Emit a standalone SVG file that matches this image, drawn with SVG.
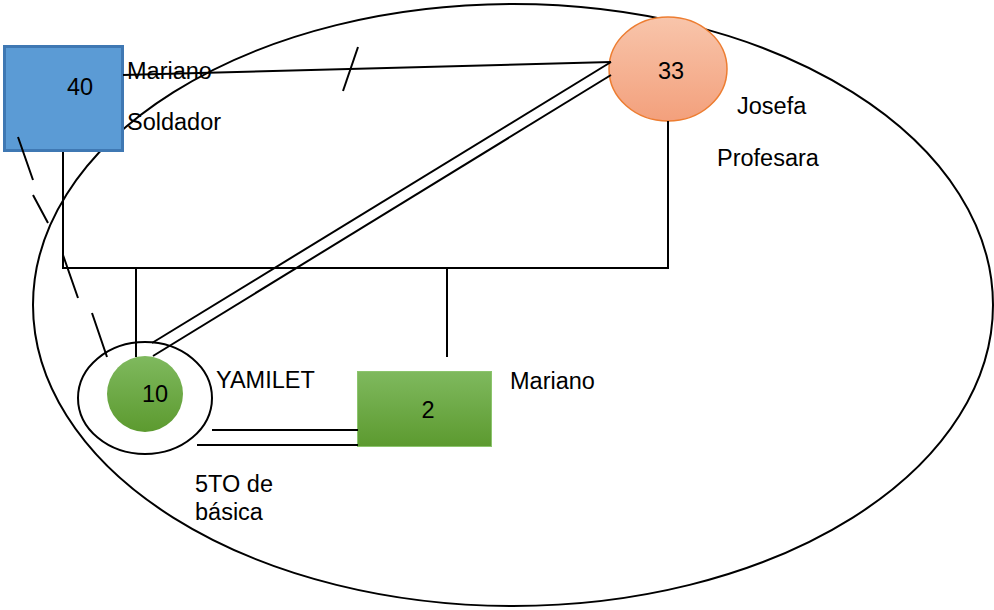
<svg xmlns="http://www.w3.org/2000/svg" width="994" height="610" viewBox="0 0 994 610">
<defs>
<linearGradient id="gOrange" x1="0" y1="0" x2="0" y2="1"><stop offset="0" stop-color="#f8c5ab"/><stop offset="1" stop-color="#f3a07c"/></linearGradient>
<linearGradient id="gGreen" x1="0" y1="0" x2="0" y2="1"><stop offset="0" stop-color="#7fb95e"/><stop offset="1" stop-color="#5c9a2f"/></linearGradient>
</defs>
<style>
.ln{stroke:#000;stroke-width:2;fill:none}
.t{font-family:"Liberation Sans",Arial,sans-serif;font-size:23.5px;fill:#000}
.c{text-anchor:middle}
</style>
<rect width="994" height="610" fill="#fff"/>
<ellipse id="boundary" cx="513" cy="305" rx="480" ry="301" class="ln"/>
<g id="n40">
<rect x="4.5" y="46.5" width="118" height="104" fill="#5b9bd5" stroke="#3f78b3" stroke-width="3"/>
<text class="t c" x="80" y="95">40</text>
</g>
<g id="n33">
<ellipse cx="668" cy="69" rx="59" ry="52" fill="url(#gOrange)" stroke="#ed7d31" stroke-width="1.5"/>
<text class="t c" x="671" y="79">33</text>
</g>
<g id="n10">
<ellipse cx="145" cy="398" rx="67" ry="56" class="ln"/>
<circle cx="145" cy="394" r="38" fill="url(#gGreen)"/>
<text class="t c" x="155" y="402">10</text>
</g>
<g id="n2">
<rect x="357.5" y="371.5" width="134" height="75" fill="url(#gGreen)" stroke="#8cc56d" stroke-width="1"/>
<text class="t c" x="428" y="418">2</text>
</g>
<g id="connectors">
<line x1="123" y1="75" x2="611" y2="62" class="ln"/>
<line x1="343" y1="91" x2="358" y2="47" class="ln"/>
<line x1="611" y1="62" x2="152" y2="343" class="ln"/>
<line x1="611" y1="75" x2="153" y2="356" class="ln"/>
<polyline points="668,121 668,268 63,268 63,152" class="ln"/>
<line x1="136" y1="268" x2="136" y2="357" class="ln"/>
<line x1="447" y1="268" x2="447" y2="357" class="ln"/>
<path d="M18 137 L33 180 M33 195 L48 223 M63 255 L78 298 M92 313 L107 357" class="ln"/>
<line x1="212" y1="430" x2="358" y2="430" class="ln"/>
<line x1="197" y1="445" x2="358" y2="445" class="ln"/>
</g>
<g id="labels">
<text class="t" x="127" y="79">Mariano</text>
<text class="t" x="127" y="130">Soldador</text>
<text class="t" x="737" y="114">Josefa</text>
<text class="t" x="717" y="166">Profesara</text>
<text class="t" x="216" y="388">YAMILET</text>
<text class="t" x="510" y="389">Mariano</text>
<text class="t" x="195" y="492">5TO de</text>
<text class="t" x="195" y="520">básica</text>
</g>
</svg>
